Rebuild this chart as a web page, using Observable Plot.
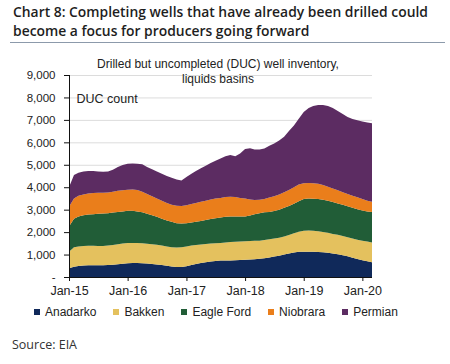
<!DOCTYPE html>
<html>
<head>
<meta charset="utf-8">
<script src="https://cdn.jsdelivr.net/npm/d3@7"></script>
<script src="https://cdn.jsdelivr.net/npm/@observablehq/plot@0.6"></script>
<style>
  html, body { margin: 0; padding: 0; background: #fff; }
  body { width: 450px; height: 364px; position: relative; overflow: hidden; font-family: "Liberation Sans", Arial, sans-serif; }
  #title { position: absolute; left: 13px; top: 2px; font-family: "Open Sans", sans-serif; font-weight: 600; font-size: 15px; color: #1e1e1e; white-space: nowrap; }
  #title div { height: 18.5px; line-height: 18.5px; }
  #title span { display: inline-block; transform-origin: 0 50%; line-height: 17px; }
  #rule { position: absolute; left: 10px; width: 435px; top: 42px; height: 0; border-top: 1px solid #8c9aab; }
  #chart { position: absolute; left: 0; top: 50px; }
  #legend { position: absolute; left: 34px; top: 304px; display: flex; gap: 17px; font-size: 12px; color: #222; line-height: 16px; }
  #legend .item { display: flex; align-items: center; }
  #legend .sw { width: 6px; height: 6px; margin-right: 5px; }
  #source { position: absolute; left: 12px; top: 336px; font-family: "Open Sans", sans-serif; font-size: 12.5px; color: #333; }
</style>
</head>
<body>
<div id="title"><div><span id="t1"></span></div><div><span id="t2"></span></div></div>
<div id="rule"></div>
<div id="chart"></div>
<div id="legend"></div>
<div id="source"></div>
<script>
const titleLines = ["Chart 8: Completing wells that have already been drilled could", "become a focus for producers going forward"];
const subtitleText = "Drilled but uncompleted (DUC) well inventory,\nliquids basins";
const unitLabel = "DUC count";
const sourceText = "Source: EIA";

const seriesNames = ["Anadarko", "Bakken", "Eagle Ford", "Niobrara", "Permian"];
const seriesColors = ["#10295a", "#e4c15e", "#215d37", "#ea7e1b", "#5c2c62"];

// Monthly, Jan 2015 .. Mar 2020
const startMonth = "2015-01-01";
const anadarko = [390,460,490,510,520,520,520,520,530,550,570,590,610,620,620,610,600,580,560,530,500,470,450,450,480,530,580,620,660,690,710,730,740,740,750,760,770,780,790,810,840,870,910,950,1000,1050,1090,1120,1130,1130,1120,1110,1100,1080,1050,1010,970,920,860,800,750,700,660];
const bakken = [740,860,870,870,870,870,860,860,870,880,890,900,900,900,900,890,880,880,880,870,860,860,860,870,880,870,850,830,810,800,790,790,800,820,820,820,820,820,820,810,810,810,800,800,800,820,860,900,930,940,940,930,910,890,870,870,860,850,850,860,870,880,880];
const eagleFord = [1120,1280,1340,1370,1390,1410,1440,1450,1440,1440,1440,1430,1440,1430,1400,1380,1340,1290,1240,1200,1160,1130,1090,1060,1040,1030,1030,1050,1070,1090,1120,1130,1140,1140,1130,1120,1110,1140,1190,1220,1230,1220,1230,1250,1280,1290,1310,1360,1420,1430,1430,1430,1430,1430,1420,1400,1390,1380,1370,1360,1340,1340,1360];
const niobrara = [880,900,920,930,940,940,930,920,920,930,940,950,940,950,960,920,880,850,820,800,780,760,770,780,800,820,840,850,860,870,880,870,880,880,860,820,800,710,630,600,600,640,660,680,700,720,740,740,700,690,690,690,660,620,600,580,560,550,540,530,510,480,450];
const permian = [870,1050,1030,1020,1000,980,950,940,940,980,1060,1120,1160,1160,1170,1220,1200,1200,1200,1200,1200,1200,1170,1140,1250,1350,1420,1500,1560,1630,1680,1760,1820,1860,1820,1980,2200,2290,2250,2240,2240,2310,2350,2400,2470,2620,2750,2930,3170,3340,3440,3500,3560,3600,3590,3540,3480,3430,3420,3430,3460,3480,3500];

const yTicks = [0,1000,2000,3000,4000,5000,6000,7000,8000,9000];
const xTickLabels = ["Jan-15","Jan-16","Jan-17","Jan-18","Jan-19","Jan-20"];

const seriesValues = [anadarko, bakken, eagleFord, niobrara, permian];
const start = new Date(startMonth + "T00:00:00Z");
const data = [];
seriesNames.forEach((name, s) => {
  seriesValues[s].forEach((v, i) => {
    data.push({date: d3.utcMonth.offset(start, i), series: name, value: v});
  });
});
const xDomain = [start, d3.utcMonth.offset(start, anadarko.length - 1)];
const xTicks = xTickLabels.map(l => new Date(Date.UTC(2000 + +l.slice(4), 0, 1)));

const chart = Plot.plot({
  width: 450,
  height: 250,
  marginLeft: 69,
  marginRight: 78,
  marginTop: 25,
  marginBottom: 23,
  style: {fontFamily: "'Liberation Sans', Arial, sans-serif", fontSize: "12px", color: "#222", background: "transparent"},
  x: {type: "utc", domain: xDomain},
  y: {domain: [0, 9000]},
  color: {domain: seriesNames, range: seriesColors},
  marks: [
    Plot.gridY(yTicks.slice(1), {stroke: "#dcdcdc", strokeOpacity: 1}),
    Plot.areaY(data, {x: "date", y: "value", fill: "series", order: seriesNames}),
    Plot.ruleX([start], {y1: 0, y2: 9000, stroke: "#111"}),
    Plot.ruleY([0], {stroke: "#111"}),
    Plot.axisY({ticks: yTicks, tickSize: 5, tickPadding: 9, fontSize: 11.5, tickFormat: d => d === 0 ? "-" : d3.format(",")(d), label: null, stroke: "#111"}),
    Plot.axisX({ticks: xTicks, tickSize: 4, tickPadding: 5, fontSize: 12.5, tickFormat: (d, i) => xTickLabels[i], label: null, stroke: "#111"}),
    Plot.text([subtitleText], {frameAnchor: "top", dx: -3, dy: -19, fontSize: 12, lineHeight: 1.3, fill: "#222"}),
    Plot.text([unitLabel], {frameAnchor: "top-left", dx: 7, dy: 19, fontSize: 12.5, textAnchor: "start", fill: "#222"})
  ]
});
document.getElementById("chart").appendChild(chart);

// Title and footer
const t1 = document.getElementById("t1"), t2 = document.getElementById("t2");
t1.textContent = titleLines[0];
t2.textContent = titleLines[1];
const sc = 415 / t1.getBoundingClientRect().width;
t1.style.transform = `scaleX(${sc})`;
t2.style.transform = `scaleX(${sc})`;

const legend = document.getElementById("legend");
seriesNames.forEach((n, i) => {
  const it = document.createElement("div");
  it.className = "item";
  const sw = document.createElement("span");
  sw.className = "sw";
  sw.style.background = seriesColors[i];
  const tx = document.createElement("span");
  tx.textContent = n;
  it.appendChild(sw); it.appendChild(tx);
  legend.appendChild(it);
});
document.getElementById("source").textContent = sourceText;
</script>
</body>
</html>
